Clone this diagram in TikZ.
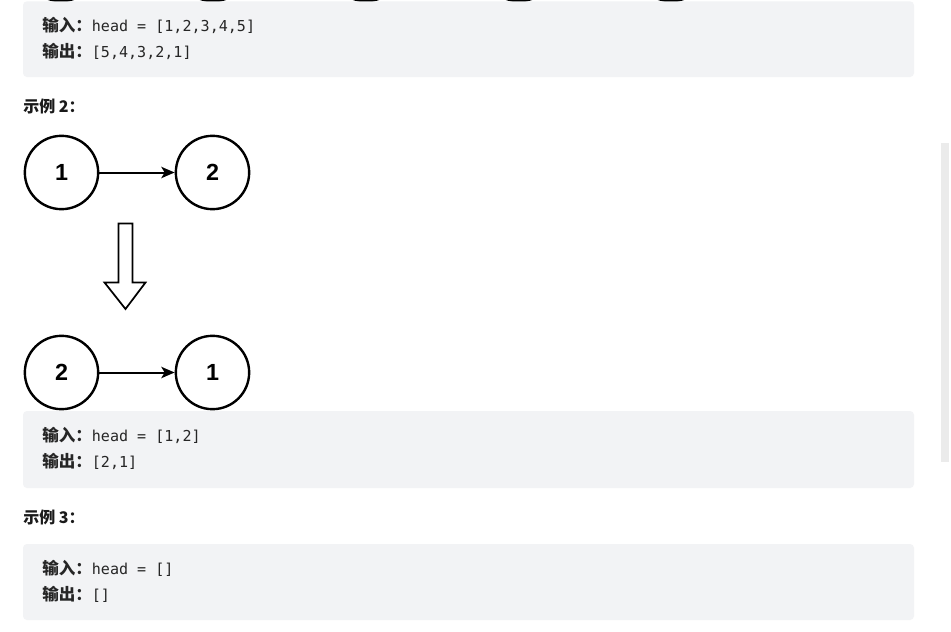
\documentclass[tikz,border=0pt]{standalone}
\usepackage{fontspec}
\setmainfont{Liberation Sans}
\newfontfamily\cjkfont{Noto Sans CJK SC}
\newfontfamily\codefont{DejaVu Sans Mono}
\usetikzlibrary{arrows.meta}
\definecolor{boxgray}{RGB}{242,243,245}
\definecolor{scrollgray}{RGB}{235,235,235}
\definecolor{codetext}{RGB}{38,38,38}
\definecolor{headtext}{RGB}{26,26,26}
\tikzset{
  codebox/.style={fill=boxgray, draw=none, rounded corners=4*0.75pt},
  llnode/.style={circle, draw=black, line width=1.8pt, minimum size=55pt, inner sep=0pt,
    font=\fontsize{17.5pt}{19pt}\selectfont\bfseries},
  link/.style={line width=1.5pt, -{Stealth[length=10pt,width=8.5pt,inset=2.5pt]}},
  label/.style={anchor=base west, inner sep=0pt, text=codetext},
  heading/.style={anchor=base west, inner sep=0pt, text=headtext,
    font=\cjkfont\bfseries\fontsize{12pt}{14pt}\selectfont},
  hollow/.style={draw=black, line width=1.3pt, fill=white, line join=miter}
}
\newcommand{\inlab}[1]{{\cjkfont\bfseries\fontsize{12.4pt}{14pt}\selectfont #1}}
\newcommand{\codetx}[1]{{\codefont\fontsize{11.3pt}{13pt}\selectfont #1}}
\begin{document}
\begin{tikzpicture}[x=0.75pt,y=-0.75pt]
\useasboundingbox (0,0) rectangle (951,632);
\clip (0,0) rectangle (951,632);
\fill[white] (0,0) rectangle (951,632);
% remnants of previous example's nodes
\foreach \cx [count=\i] in {61,213,366,519,671}
  \node[llnode] (prev\i) at (\cx,-35.5) {};
% box 1
\fill[codebox] (23,1.3) rectangle (914,77);
\node[label] (in1) at (42,31) {\inlab{输入：}\codetx{head = [1,2,3,4,5]}};
\node[label] (out1) at (42,57) {\inlab{输出：}\codetx{[5,4,3,2,1]}};
% example 2
\node[heading] (ex2) at (23,112) {示例 2：};
\node[llnode] (a1) at (61.5,172.5) {1};
\node[llnode] (a2) at (212.5,172.5) {2};
\draw[link] (a1) -- (a2);
\draw[hollow] (118.5,223.5) -- (132.5,223.5) -- (132.5,282.5) -- (145.5,282.5)
  -- (125.5,309) -- (104.5,282.5) -- (118.5,282.5) -- cycle;
\node[llnode] (b2) at (61.5,372.5) {2};
\node[llnode] (b1) at (212.5,372.5) {1};
\draw[link] (b2) -- (b1);
% box 2
\fill[codebox] (23,411) rectangle (914,488);
\node[label] (in2) at (42,441.5) {\inlab{输入：}\codetx{head = [1,2]}};
\node[label] (out2) at (42,467.5) {\inlab{输出：}\codetx{[2,1]}};
% example 3
\node[heading] (ex3) at (23,523) {示例 3：};
\fill[codebox] (23,544) rectangle (914,620);
\node[label] (in3) at (42,574.5) {\inlab{输入：}\codetx{head = []}};
\node[label] (out3) at (42,600.5) {\inlab{输出：}\codetx{[]}};
% scrollbar
\fill[scrollgray] (941,143) rectangle (949,462);
\end{tikzpicture}
\end{document}
